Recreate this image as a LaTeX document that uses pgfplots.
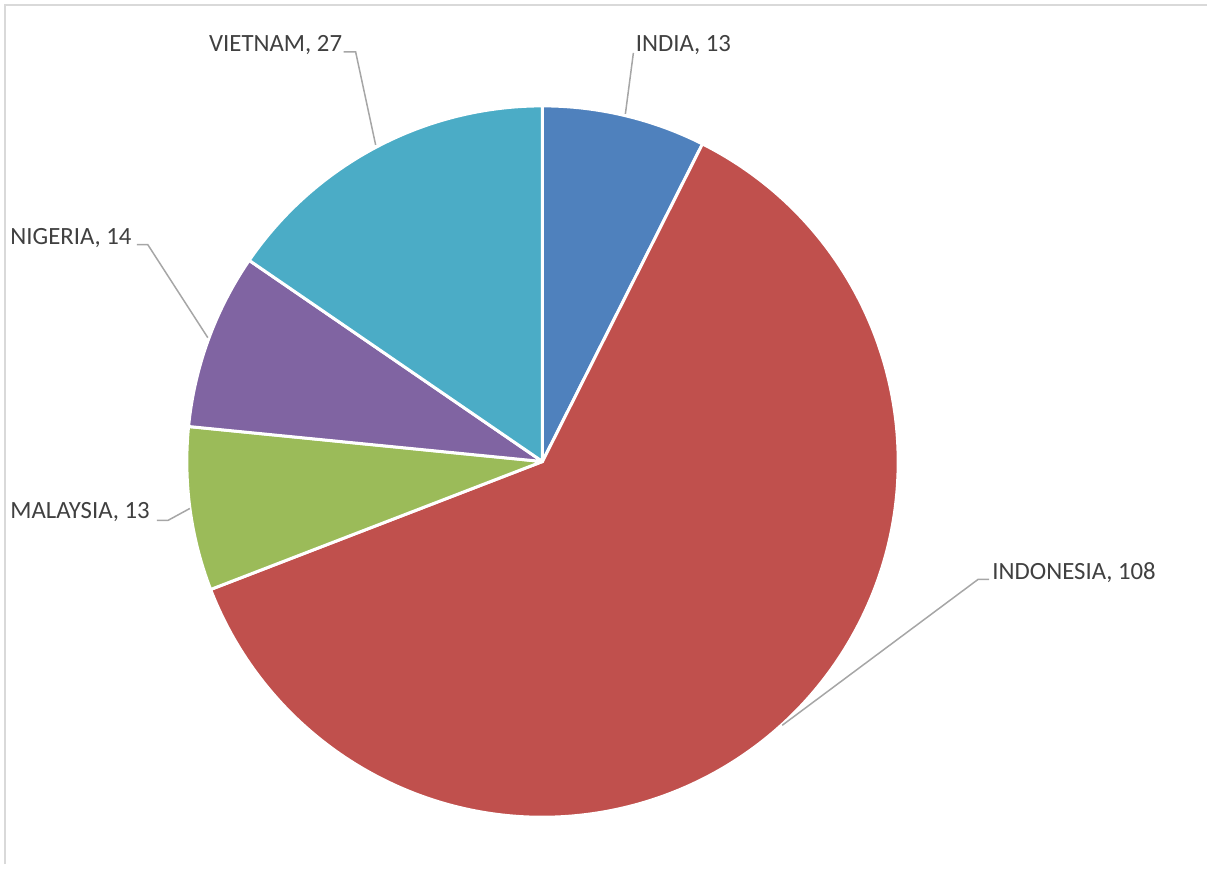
\documentclass[border=0pt]{standalone}
\usepackage{pgfplots}
\usepackage{pgfplotstable}
\pgfplotsset{compat=1.18}
\usepackage{fontspec}
\setmainfont{Carlito}

\definecolor{c0}{HTML}{4F81BD}
\definecolor{c1}{HTML}{C0504D}
\definecolor{c2}{HTML}{9BBB59}
\definecolor{c3}{HTML}{8064A2}
\definecolor{c4}{HTML}{4BACC6}
\definecolor{labeltext}{HTML}{404040}
\definecolor{leader}{HTML}{A6A6A6}
\definecolor{frame}{HTML}{D9D9D9}

% pie data, label anchor in picture pixels (y from top)
\pgfplotstableread{
country   value lx  ly
INDIA     13    636 45
INDONESIA 108   993 573
MALAYSIA  13    10  513
NIGERIA   14    10  238
VIETNAM   27    209 45
}\piedata

\begin{document}
\begin{tikzpicture}
% cumulative angles, clockwise from the top
\pgfplotstablegetrowsof{\piedata}
\pgfmathtruncatemacro\nrows{\pgfplotsretval-1}
\def\tot{0}
\pgfplotsforeachungrouped \i in {0,...,\nrows}{%
  \pgfplotstablegetelem{\i}{value}\of\piedata
  \pgfmathsetmacro\tot{\tot+\pgfplotsretval}%
}
\def\cum{90}
\pgfplotsforeachungrouped \i in {0,...,\nrows}{%
  \pgfplotstablegetelem{\i}{value}\of\piedata
  \expandafter\xdef\csname v\i\endcsname{\pgfplotsretval}%
  \pgfmathsetmacro\slice{\pgfplotsretval/\tot*360}%
  \expandafter\xdef\csname a\i\endcsname{\cum}%
  \pgfmathsetmacro\cum{\cum-\slice}%
  \expandafter\xdef\csname b\i\endcsname{\cum}%
  \pgfmathsetmacro\px{543+356*cos(\csname a\i\endcsname)}%
  \pgfmathsetmacro\py{403+356*sin(\csname a\i\endcsname)}%
  \expandafter\xdef\csname p\i\endcsname{\px}%
  \expandafter\xdef\csname q\i\endcsname{\py}%
  \pgfplotstablegetelem{\i}{country}\of\piedata
  \expandafter\xdef\csname n\i\endcsname{\pgfplotsretval}%
  \pgfplotstablegetelem{\i}{lx}\of\piedata
  \expandafter\xdef\csname x\i\endcsname{\pgfplotsretval}%
  \pgfplotstablegetelem{\i}{ly}\of\piedata
  \pgfmathsetmacro\ty{865-\pgfplotsretval}%
  \expandafter\xdef\csname y\i\endcsname{\ty}%
}
\begin{axis}[
    x=0.5pt, y=0.5pt,
    xmin=0, xmax=1208, ymin=0, ymax=865,
    disabledatascaling,
    hide axis, clip=false,
]
\path (axis cs:0,0) rectangle (axis cs:1208,865);
\draw[frame, line width=1.2pt] (axis cs:5,0) -- (axis cs:5,860) -- (axis cs:1208,860);

\pgfplotsinvokeforeach{0,...,4}{
  \filldraw[fill=c#1, draw=white, line width=1.5pt, line join=round]
    (axis cs:543,403) --
    (axis cs:\csname p#1\endcsname,\csname q#1\endcsname)
    arc[start angle=\csname a#1\endcsname, end angle=\csname b#1\endcsname, radius=356]
    -- cycle;
  \node[anchor=west, inner sep=0pt, text=labeltext, font=\fontsize{12.4}{14}\selectfont]
    at (axis cs:\csname x#1\endcsname,\csname y#1\endcsname)
    {\csname n#1\endcsname, \csname v#1\endcsname};
}

% leader lines
\draw[leader, line width=0.75pt] (axis cs:634,812) -- (axis cs:626,751);
\draw[leader, line width=0.75pt] (axis cs:990,285) -- (axis cs:979,285) -- (axis cs:783,139);
\draw[leader, line width=0.75pt] (axis cs:157,344) -- (axis cs:168,344) -- (axis cs:190,356);
\draw[leader, line width=0.75pt] (axis cs:137,620) -- (axis cs:148,620) -- (axis cs:208,527);
\draw[leader, line width=0.75pt] (axis cs:344,813) -- (axis cs:356,813) -- (axis cs:376,720);
\end{axis}
\end{tikzpicture}
\end{document}
